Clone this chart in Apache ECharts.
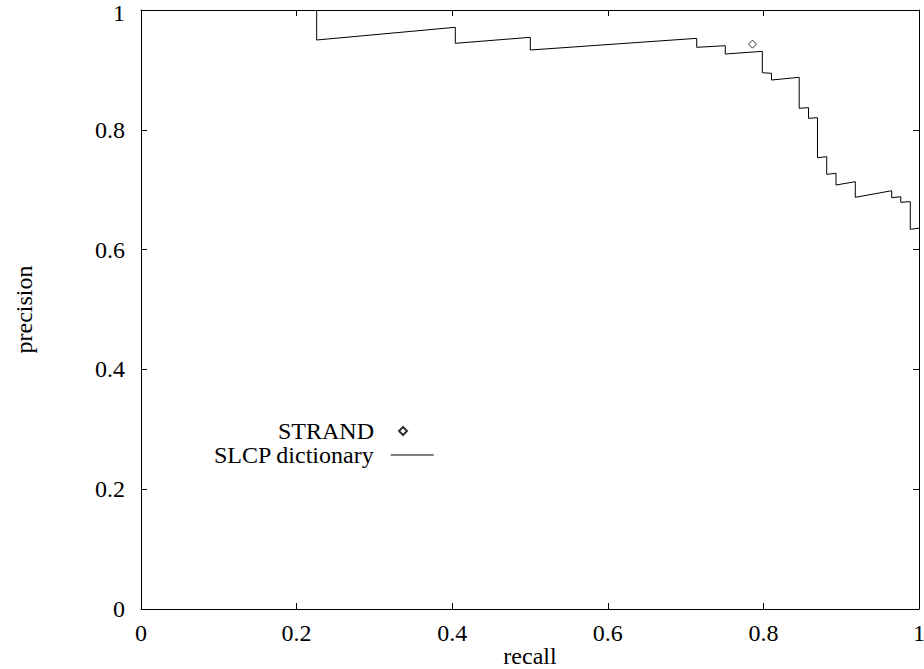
<!DOCTYPE html>
<html>
<head>
<meta charset="utf-8">
<script src="https://cdn.jsdelivr.net/npm/echarts@6/dist/echarts.min.js"></script>
<style>
  html, body { margin: 0; padding: 0; background: #fff; }
  #chart { width: 924px; height: 669px; }
</style>
</head>
<body>
<div id="chart"></div>
<script>
// Precision/recall curve of the SLCP dictionary (step-wise) and the single STRAND point
const slcpRecall = [0.2258, 0.2258, 0.404, 0.404, 0.5004, 0.5004, 0.7143, 0.7143, 0.7510, 0.7510,
  0.7986, 0.7986, 0.8104, 0.8104, 0.8460, 0.8460, 0.8580, 0.8580, 0.8695, 0.8695,
  0.8814, 0.8814, 0.8933, 0.8933, 0.9181, 0.9181, 0.9649, 0.9649, 0.9766, 0.9766,
  0.9888, 0.9888, 1.0];
const slcpPrecision = [1.0, 0.9499, 0.9711, 0.9444, 0.9544, 0.9332, 0.9527, 0.9377, 0.9404, 0.9265,
  0.9310, 0.8953, 0.8943, 0.8831, 0.8876, 0.8359, 0.8369, 0.8192, 0.8202, 0.7534,
  0.7551, 0.7257, 0.7274, 0.7078, 0.7134, 0.6873, 0.6983, 0.6866, 0.6883, 0.6790,
  0.6800, 0.6339, 0.6356];
const strandRecall = [0.786];
const strandPrecision = [0.943];

const tickValues = [0, 0.2, 0.4, 0.6, 0.8, 1];
const tickLabels = ['0', '0.2', '0.4', '0.6', '0.8', '1'];

const FONT = "'Liberation Serif', 'Times New Roman', serif";

function tickLabel(v) {
  const i = tickValues.findIndex(t => Math.abs(t - v) < 1e-9);
  return i >= 0 ? tickLabels[i] : '';
}

// The topmost precision label sits a little lower so it stays inside the page
function precisionLabel(v) {
  const s = tickLabel(v);
  return Math.abs(v - 1) < 1e-9 ? '{top|' + s + '}' : s;
}

const zip = (xs, ys) => xs.map((x, i) => [x, ys[i]]);

// Shared settings for the four sides of the frame: inward ticks, no grid lines
function frameAxis(extra) {
  return Object.assign({
    type: 'value', min: 0, max: 1, interval: 0.2,
    axisLine: { show: true, onZero: false, lineStyle: { color: '#000', width: 1 } },
    axisTick: { show: true, inside: true, length: 6, lineStyle: { color: '#000', width: 1 } },
    axisLabel: { show: false },
    splitLine: { show: false }
  }, extra);
}

const labelStyle = { fontFamily: FONT, fontSize: 24, lineHeight: 18, color: '#000' };

const chart = echarts.init(document.getElementById('chart'), null, { renderer: 'svg' });

chart.setOption({
  animation: false,
  backgroundColor: '#fff',
  textStyle: { fontFamily: FONT, color: '#000' },
  grid: { left: 141, right: 5, top: 10, bottom: 60, containLabel: false, outerBoundsMode: 'none' },
  xAxis: [
    frameAxis({
      position: 'bottom',
      name: 'recall', nameLocation: 'middle', nameGap: 39, nameMoveOverlap: false,
      nameTextStyle: Object.assign({}, labelStyle, { lineHeight: 16 }),
      axisLabel: Object.assign({ show: true, margin: 15, formatter: tickLabel }, labelStyle)
    }),
    frameAxis({ position: 'top' })
  ],
  yAxis: [
    frameAxis({
      position: 'left',
      name: 'precision', nameLocation: 'middle', nameGap: 108, nameRotate: 90,
      nameTextStyle: Object.assign({}, labelStyle),
      axisLabel: Object.assign({ show: true, margin: 16, formatter: precisionLabel,
        rich: { top: { fontFamily: FONT, fontSize: 24, lineHeight: 18, color: '#000', padding: [6, 0, 0, 0] } }
      }, labelStyle)
    }),
    frameAxis({ position: 'right' })
  ],
  legend: [
    {
      data: [{ name: 'STRAND', icon: 'diamond' }],
      orient: 'vertical', align: 'right',
      left: 278, top: 419, padding: 0,
      itemWidth: 8, itemHeight: 8,
      textStyle: { fontFamily: FONT, fontSize: 24, color: '#000', padding: [0, 20, 0, 0] },
      selectedMode: false
    },
    {
      data: [{ name: 'SLCP dictionary', icon: 'rect' }],
      orient: 'vertical', align: 'right',
      left: 213, top: 443, padding: 0,
      itemWidth: 43, itemHeight: 1,
      itemStyle: { color: '#000', borderWidth: 0 },
      textStyle: { fontFamily: FONT, fontSize: 24, color: '#000', padding: [0, 12, 0, 0] },
      selectedMode: false
    }
  ],
  series: [
    {
      name: 'SLCP dictionary',
      type: 'line',
      data: zip(slcpRecall, slcpPrecision),
      symbol: 'none',
      lineStyle: { color: '#000', width: 1 },
      itemStyle: { color: '#000' }
    },
    {
      name: 'STRAND',
      type: 'scatter',
      data: zip(strandRecall, strandPrecision),
      symbol: 'diamond',
      symbolSize: 8,
      itemStyle: { color: '#fff', borderColor: '#000', borderWidth: 1 }
    }
  ]
});
</script>
</body>
</html>
